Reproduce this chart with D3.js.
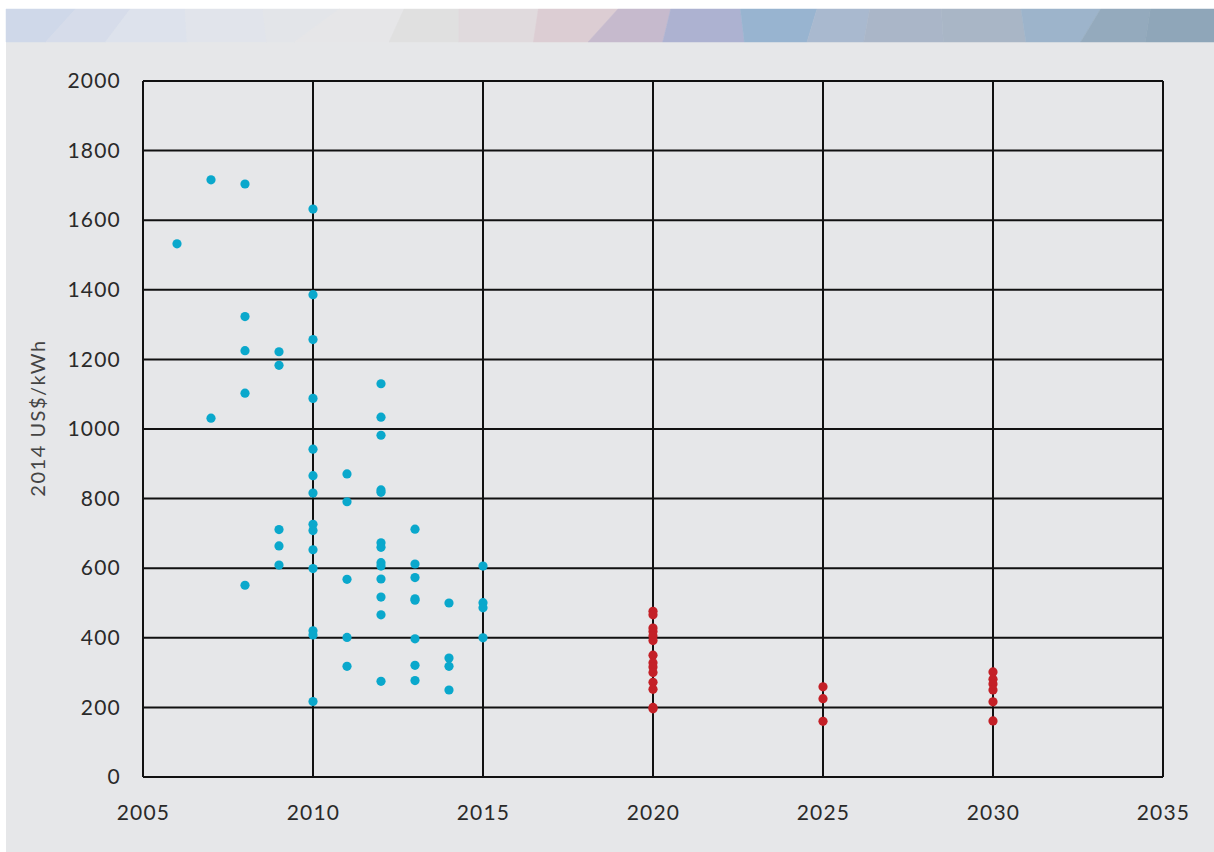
<!DOCTYPE html>
<html>
<head>
<meta charset="utf-8">
<script src="https://cdn.jsdelivr.net/npm/d3@7"></script>
<style>
	body { margin: 0; background: #ffffff; }
	svg { display: block; }
</style>
</head>
<body>
<script>
// historical cost estimates (blue) and projections (red), 2014 US$/kWh
var histYears = [2006, 2007, 2007, 2008, 2008, 2008, 2008, 2008,
	2009, 2009, 2009, 2009, 2009,
	2010, 2010, 2010, 2010, 2010, 2010, 2010, 2010, 2010, 2010, 2010, 2010, 2010, 2010,
	2011, 2011, 2011, 2011, 2011,
	2012, 2012, 2012, 2012, 2012, 2012, 2012, 2012, 2012, 2012, 2012, 2012, 2012,
	2013, 2013, 2013, 2013, 2013, 2013, 2013, 2013,
	2014, 2014, 2014, 2014,
	2015, 2015, 2015, 2015];
var histValues = [1532, 1716, 1031, 1704, 1323, 1225, 1103, 551,
	1222, 1183, 711, 664, 609,
	1632, 1386, 1257, 1088, 942, 866, 816, 726, 708, 653, 599, 420, 408, 217,
	871, 791, 568, 401, 318,
	1130, 1034, 982, 825, 818, 673, 660, 616, 606, 569, 517, 466, 275,
	712, 612, 573, 512, 508, 397, 321, 277,
	500, 342, 318, 250,
	606, 501, 486, 400];

var projYears = [2020, 2020, 2020, 2020, 2020, 2020, 2020, 2020, 2020, 2020, 2020, 2020, 2020, 2020,
	2025, 2025, 2025,
	2030, 2030, 2030, 2030, 2030, 2030];
var projValues = [476, 466, 428, 418, 405, 392, 350, 328, 316, 300, 272, 252, 200, 196,
	259, 225, 160,
	302, 281, 267, 250, 216, 161];

var xTicks = [2005, 2010, 2015, 2020, 2025, 2030, 2035];
var yTicks = [0, 200, 400, 600, 800, 1000, 1200, 1400, 1600, 1800, 2000];
var yTitle = "2014 US$/kWh";

// decorative banner strip: x breakpoints along top / bottom edge and colours
var bannerTop = [0, 70, 125, 180, 258, 335, 400, 455, 535, 615, 668, 738, 815, 868, 940, 1020, 1100, 1150, 1214];
var bannerBottom = [0, 40, 100, 182, 262, 290, 385, 455, 530, 585, 660, 742, 805, 862, 942, 1025, 1080, 1145, 1214];
var bannerColors = ["#cfd8e9", "#d6dcea", "#dde2ec", "#e1e4eb", "#e3e5e9", "#e6e6e8", "#e0e0e0", "#e0dadd",
	"#dccdd3", "#c6bacd", "#adb2d1", "#98b4d0", "#a9b9cf", "#aab6c8", "#a9b6c6", "#9db4cb", "#94aabd", "#8fa6b9"];

var W = 1214, H = 852;
var margin = {top: 81, right: 51, bottom: 75, left: 143};

var svg = d3.select("body").append("svg")
	.attr("width", W)
	.attr("height", H);

// panel
svg.append("rect")
	.attr("x", 6).attr("y", 9)
	.attr("width", W - 6).attr("height", H - 9)
	.attr("fill", "#e6e7e9");

var banner = svg.append("g").attr("transform", "translate(6,9)");
var bw = (W - 6) / W;
for (var i = 0; i < bannerColors.length; i++) {
	var pts = [[bannerTop[i] * bw, 0], [bannerTop[i + 1] * bw, 0],
		[bannerBottom[i + 1] * bw, 33], [bannerBottom[i] * bw, 33]];
	banner.append("polygon")
		.attr("points", pts.map(function(p) { return p.join(","); }).join(" "))
		.attr("fill", bannerColors[i])
		.attr("stroke", bannerColors[i])
		.attr("stroke-width", 0.5);
}

var width = W - margin.left - margin.right,
	height = 777 - margin.top;

var g = svg.append("g")
	.attr("transform", "translate(" + margin.left + "," + margin.top + ")");

var x = d3.scaleLinear().domain([2005, 2035]).range([0, width]);
var y = d3.scaleLinear().domain([0, 2000]).range([height, 0]);

// grid
g.selectAll(".hgrid")
	.data(yTicks)
	.enter().append("line")
	.attr("class", "hgrid")
	.attr("x1", 0).attr("x2", width)
	.attr("y1", function(d) { return y(d); })
	.attr("y2", function(d) { return y(d); })
	.attr("stroke", "#111")
	.attr("stroke-width", 2);

g.selectAll(".vgrid")
	.data(xTicks)
	.enter().append("line")
	.attr("class", "vgrid")
	.attr("y1", 0).attr("y2", height)
	.attr("x1", function(d) { return x(d); })
	.attr("x2", function(d) { return x(d); })
	.attr("stroke", "#111")
	.attr("stroke-width", 2);

var font = "Lato, 'Open Sans', sans-serif";

// axes (labels only, lines are the grid)
var yAxis = g.append("g")
	.call(d3.axisLeft(y).tickValues(yTicks).tickSize(0).tickPadding(22).tickFormat(d3.format("d")));
yAxis.select(".domain").remove();
yAxis.selectAll("text")
	.attr("fill", "#2a2a2a")
	.style("font-family", font)
	.style("font-size", "21px")
	.style("letter-spacing", "1.2px");

var xAxis = g.append("g")
	.attr("transform", "translate(0," + height + ")")
	.call(d3.axisBottom(x).tickValues(xTicks).tickSize(0).tickPadding(28).tickFormat(d3.format("d")));
xAxis.select(".domain").remove();
xAxis.selectAll("text")
	.attr("fill", "#2a2a2a")
	.style("font-family", font)
	.style("font-size", "21px")
	.style("letter-spacing", "1.2px");

svg.append("text")
	.attr("transform", "translate(45,418) rotate(-90)")
	.attr("text-anchor", "middle")
	.attr("fill", "#444")
	.style("font-family", font)
	.style("font-size", "20px")
	.style("letter-spacing", "1.5px")
	.text(yTitle);

// points
g.selectAll(".hist")
	.data(histValues)
	.enter().append("circle")
	.attr("class", "hist")
	.attr("cx", function(d, i) { return x(histYears[i]); })
	.attr("cy", function(d) { return y(d); })
	.attr("r", 4.6)
	.attr("fill", "#0aa8cc");

g.selectAll(".proj")
	.data(projValues)
	.enter().append("circle")
	.attr("class", "proj")
	.attr("cx", function(d, i) { return x(projYears[i]); })
	.attr("cy", function(d) { return y(d); })
	.attr("r", 4.6)
	.attr("fill", "#c42027");
</script>
</body>
</html>
